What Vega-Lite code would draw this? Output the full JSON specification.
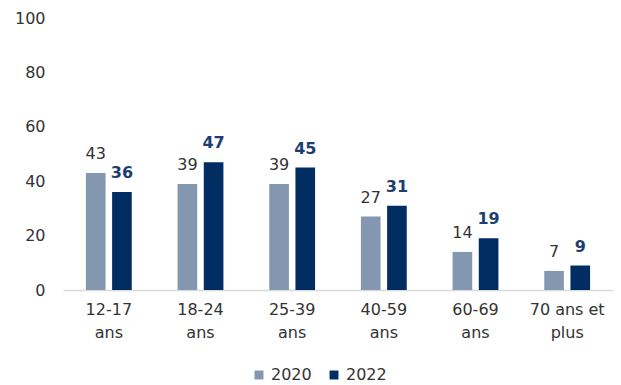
{
  "$schema": "https://vega.github.io/schema/vega-lite/v6.json",
  "width": 550,
  "height": 272,
  "autosize": {"type": "none"},
  "padding": {"left": 63, "top": 18, "right": 8, "bottom": 95},
  "config": {"font": "DejaVu Sans", "view": {"stroke": null}},
  "data": {
    "values": [
      {"age": "12-17|ans", "year": "2020", "value": 43},
      {"age": "12-17|ans", "year": "2022", "value": 36},
      {"age": "18-24|ans", "year": "2020", "value": 39},
      {"age": "18-24|ans", "year": "2022", "value": 47},
      {"age": "25-39|ans", "year": "2020", "value": 39},
      {"age": "25-39|ans", "year": "2022", "value": 45},
      {"age": "40-59|ans", "year": "2020", "value": 27},
      {"age": "40-59|ans", "year": "2022", "value": 31},
      {"age": "60-69|ans", "year": "2020", "value": 14},
      {"age": "60-69|ans", "year": "2022", "value": 19},
      {"age": "70 ans et|plus", "year": "2020", "value": 7},
      {"age": "70 ans et|plus", "year": "2022", "value": 9}
    ]
  },
  "encoding": {
    "x": {
      "field": "age", "type": "nominal", "sort": null,
      "scale": {"paddingInner": 0.5, "paddingOuter": 0.25},
      "axis": {
        "title": null, "labelAngle": 0, "ticks": false,
        "domainColor": "#d9d9d9", "domainWidth": 1.5,
        "labelPadding": 11, "labelFontSize": 16, "labelColor": "#333333",
        "labelLineHeight": 23,
        "labelExpr": "split(datum.label, '|')"
      }
    },
    "xOffset": {"field": "year", "type": "nominal", "scale": {"paddingInner": 0.25, "paddingOuter": 0}},
    "y": {
      "field": "value", "type": "quantitative",
      "scale": {"domain": [0, 100]},
      "axis": {
        "title": null, "grid": false, "ticks": false, "domain": false,
        "values": [0, 20, 40, 60, 80, 100],
        "labelPadding": 18, "labelFontSize": 16, "labelColor": "#333333"
      }
    }
  },
  "layer": [
    {
      "mark": {"type": "bar"},
      "encoding": {
        "color": {
          "field": "year", "type": "nominal",
          "scale": {"domain": ["2020", "2022"], "range": ["#8497b0", "#022d63"]},
          "legend": {
            "orient": "none", "legendX": 188, "legendY": 349,
            "title": null, "direction": "horizontal",
            "symbolType": "square", "symbolSize": 80, "symbolStrokeWidth": 0,
            "labelFontSize": 16, "labelColor": "#333333", "labelOffset": 4,
            "columnPadding": 14
          }
        }
      }
    },
    {
      "transform": [{"filter": "datum.year == '2020'"}],
      "mark": {"type": "text", "baseline": "alphabetic", "dy": -14, "fontSize": 16, "color": "#333333"},
      "encoding": {"text": {"field": "value", "type": "quantitative"}}
    },
    {
      "transform": [{"filter": "datum.year == '2022'"}],
      "mark": {"type": "text", "baseline": "alphabetic", "dy": -14, "fontSize": 16, "fontWeight": "bold", "color": "#1f3d70"},
      "encoding": {"text": {"field": "value", "type": "quantitative"}}
    }
  ]
}
